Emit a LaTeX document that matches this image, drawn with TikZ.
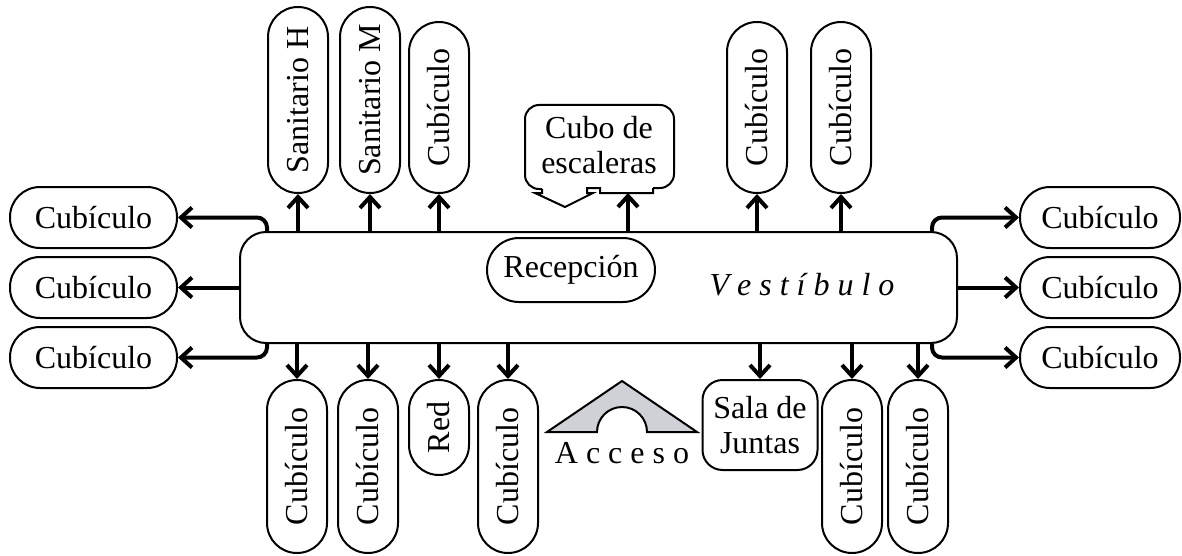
\documentclass[tikz,border=0pt]{standalone}
\usepackage{fontspec}
\setmainfont{Liberation Serif}
\usetikzlibrary{arrows.meta}
\definecolor{accgray}{RGB}{208,209,214}

\begin{document}
\begin{tikzpicture}[x=0.5pt, y=-0.5pt,
    every node/.style={font=\fontsize{16}{17.5}\selectfont},
    room/.style={draw, line width=1pt, rounded corners=15pt, inner sep=0pt, minimum width=83pt, minimum height=30.5pt},
    vroom/.style={room, rotate=90, minimum height=30pt},
    link/.style={line width=2pt, rounded corners=5pt, -{Straight Barb[length=5.5pt, width=10pt]}}]
    \useasboundingbox (0,0) rectangle (1182,556);

    % vestibulo
    \node[draw, line width=1pt, rounded corners=13pt, minimum width=358.5pt, minimum height=55.5pt] (vest) at (598.5,287.5) {};
    \node[font=\fontsize{16}{17.5}\selectfont\itshape] (vestname) at (802,285) {V e s t í b u l o};
    \node[room, minimum width=84pt, minimum height=32pt, rounded corners=16pt] (rec) at (571,270) {Recepción};

    % lados
    \node[room, minimum width=83.5pt] (lw1) at (93.5,217.5) {Cubículo};
    \node[room, minimum width=83.5pt] (lw2) at (93.5,287.5) {Cubículo};
    \node[room, minimum width=83.5pt] (lw3) at (93.5,357.5) {Cubículo};
    \node[room, minimum width=80pt] (le1) at (1100,217.5) {Cubículo};
    \node[room, minimum width=80pt] (le2) at (1100,287.5) {Cubículo};
    \node[room, minimum width=80pt] (le3) at (1100,357.5) {Cubículo};

    % arriba
    \node[vroom, minimum width=93pt] (sanh) at (298,100) {Sanitario H};
    \node[vroom, minimum width=93pt] (sanm) at (370,100) {Sanitario M};
    \node[vroom, minimum width=85.5pt] (tc1) at (439,107.5) {Cubículo};
    \node[vroom, minimum width=85.5pt] (tc2) at (757,107.5) {Cubículo};
    \node[vroom, minimum width=85.5pt] (tc3) at (841,107.5) {Cubículo};

    % cubo de escaleras
    \node[align=center] (cubo) at (599,145) {Cubo de\\escaleras};
    \draw[line width=1pt, rounded corners=7pt] (653,188) -- (674,188) -- (674,105) -- (525,105) -- (525,189) -- (542,189);
    \draw[line width=1pt] (542,189) -- (542,193) -- (535,193) -- (565,207) -- (593,193) -- (587,193) -- (587,188)
        -- (600,188) -- (600,193) -- (653,193) -- (653,188);
    \coordinate (cuboin) at (628,193);

    % abajo
    \node[vroom, minimum width=86.5pt] (bc1) at (297,466.5) {Cubículo};
    \node[vroom, minimum width=86.5pt] (bc2) at (368,466.5) {Cubículo};
    \node[vroom, minimum width=47.5pt] (red) at (439,427.5) {Red};
    \node[vroom, minimum width=86.5pt] (bc3) at (508,466.5) {Cubículo};
    \node[room, align=center, minimum width=57.5pt, minimum height=45pt, rounded corners=10pt] (sala) at (760,425) {Sala de\\Juntas};
    \node[vroom, minimum width=86.5pt] (bc4) at (852,466.5) {Cubículo};
    \node[vroom, minimum width=86.5pt] (bc5) at (918,466.5) {Cubículo};

    % acceso
    \filldraw[fill=accgray, line width=1pt] (547,432) -- (622,381) -- (697,432) -- (647,432)
        arc[start angle=0, end angle=180, radius=12.5pt] -- cycle;
    \node (acceso) at (622,453) {A c c e s o};

    % conexiones
    \draw[link] (vest.north -| 267,0) |- (lw1);
    \draw[link] (vest.west |- lw2) -- (lw2);
    \draw[link] (vest.south -| 267,0) |- (lw3);
    \draw[link] (vest.north -| 932,0) |- (le1);
    \draw[link] (vest.east |- le2) -- (le2);
    \draw[link] (vest.south -| 932,0) |- (le3);

    \draw[link] (vest.north -| sanh) -- (sanh);
    \draw[link] (vest.north -| sanm) -- (sanm);
    \draw[link] (vest.north -| tc1) -- (tc1);
    \draw[link] (vest.north -| cuboin) -- (cuboin);
    \draw[link] (vest.north -| tc2) -- (tc2);
    \draw[link] (vest.north -| tc3) -- (tc3);

    \draw[link] (vest.south -| bc1) -- (bc1);
    \draw[link] (vest.south -| bc2) -- (bc2);
    \draw[link] (vest.south -| red) -- (red);
    \draw[link] (vest.south -| bc3) -- (bc3);
    \draw[link] (vest.south -| sala) -- (sala);
    \draw[link] (vest.south -| bc4) -- (bc4);
    \draw[link] (vest.south -| bc5) -- (bc5);
\end{tikzpicture}
\end{document}
